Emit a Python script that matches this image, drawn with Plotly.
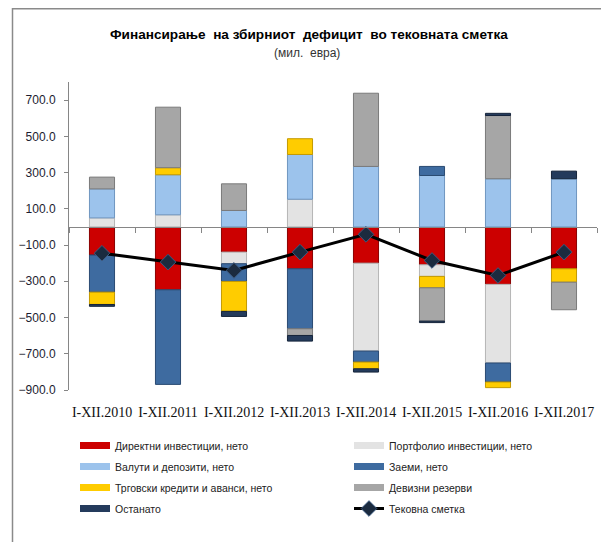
import plotly.graph_objects as go

categories = ["I-XII.2010", "I-XII.2011", "I-XII.2012", "I-XII.2013",
              "I-XII.2014", "I-XII.2015", "I-XII.2016", "I-XII.2017"]

direct_inv = [-155, -347, -139, -231, -200, -209, -317, -231]
portfolio_inv = [50, 67, -64, 153, -485, -64, -434, 0]
currency_dep = [160, 221, 91, 247, 334, 284, 266, 266]
loans = [-205, -522, -98, -331, -61, 50, -105, 0]
trade_credits = [-68, 39, -165, 87, -37, -63, -31, -74]
reserves = [65, 334, 147, -37, 404, -184, 349, -152]
other = [-10, 0, -28, -31, -18, -8, 12, 42]
current_account = [-145, -194, -240, -139, -41, -185, -268, -139]

series = [
    ("Директни инвестиции, нето", direct_inv, "#cc0000", "#8b0000", "legend"),
    ("Портфолио инвестиции, нето", portfolio_inv, "#e3e3e3", "#b5b5b5", "legend2"),
    ("Валути и депозити, нето", currency_dep, "#9cc3ec", "#6f96c0", "legend"),
    ("Заеми, нето", loans, "#3e6ba0", "#2a4a72", "legend2"),
    ("Трговски кредити и аванси, нето", trade_credits, "#ffcc00", "#c49a00", "legend"),
    ("Девизни резерви", reserves, "#a6a6a6", "#7a7a7a", "legend2"),
    ("Останато", other, "#243b5c", "#15243a", "legend"),
]

fig = go.Figure()

for name, vals, col, edge, lg in series:
    fig.add_trace(go.Bar(
        x=categories, y=[v if v != 0 else None for v in vals], name=name, showlegend=False,
        marker=dict(color=col, line=dict(color=edge, width=1)),
        hoverinfo="x+y+name",
    ))

# legend entries (wide swatches)
for name, vals, col, edge, lg in series:
    fig.add_trace(go.Scatter(
        x=[None], y=[None], mode="lines", name=name, legend=lg,
        legendgroup=name, line=dict(color=col, width=7), hoverinfo="skip",
    ))

fig.add_trace(go.Scatter(
    x=categories, y=current_account, name="Тековна сметка",
    mode="lines+markers", xaxis="x2", legend="legend2", legendgroup="ca",
    line=dict(color="#000000", width=3),
    marker=dict(symbol="diamond", size=12, color="#1b2b3f",
                line=dict(color="#3d5a80", width=1)),
))

# the page body adds an 8px margin, so figure coordinates = screen - 8
OFF = 8
W, H = 609 - OFF, 542 - OFF
ml = 69 - OFF
mt = 82 - OFF
plot_right = 597 - OFF
plot_bottom = 390 - OFF
mr = W - plot_right
mb = H - plot_bottom
pw = W - ml - mr
ph = H - mt - mb


def px_x(p):
    return (p - OFF - ml) / pw


def px_y(p):
    return (plot_bottom - (p - OFF)) / ph


legend_font = dict(family="Liberation Sans, Arial, sans-serif", size=10.5, color="#222222")

fig.update_layout(
    width=W, height=H,
    margin=dict(l=ml, r=mr, t=mt, b=mb),
    paper_bgcolor="white", plot_bgcolor="white",
    barmode="relative", bargap=0.62,
    xaxis=dict(type="category", categoryorder="array", categoryarray=categories,
               range=[-0.5, 7.5], showline=False, ticks="", showgrid=False,
               zeroline=False,
               tickfont=dict(family="Liberation Serif, Times New Roman, serif", size=14, color="#111111"),
               ticklabelstandoff=12),
    xaxis2=dict(type="category", categoryorder="array", categoryarray=categories,
                range=[-0.5, 7.5], overlaying="x", anchor="free",
                position=900 / 1700, showline=True, linecolor="#868686", linewidth=1,
                ticks="outside", ticklen=5, tickcolor="#868686", tickson="boundaries",
                showticklabels=False, showgrid=False, zeroline=False),
    yaxis=dict(range=[-900, 800], tick0=-900, dtick=200, tickformat=".1f",
               showline=True, linecolor="#868686", linewidth=1,
               ticks="outside", ticklen=4, tickcolor="#868686",
               showgrid=False, zeroline=False,
               tickfont=dict(family="Liberation Sans, Arial, sans-serif", size=12, color="#1c1c30"),
               ticklabelstandoff=6),
    legend=dict(orientation="v", x=px_x(75), y=px_y(431), xanchor="left", yanchor="top",
                font=legend_font, tracegroupgap=2, bgcolor="rgba(0,0,0,0)", itemwidth=30),
    legend2=dict(orientation="v", x=px_x(349), y=px_y(431), xanchor="left", yanchor="top",
                 font=legend_font, tracegroupgap=2, bgcolor="rgba(0,0,0,0)", itemwidth=30),
    showlegend=True,
    annotations=[
        dict(text="Финансирање\u00a0 на збирниот\u00a0 дефицит\u00a0 во тековната сметка",
             x=px_x(308.5), y=px_y(35), xref="paper", yref="paper",
             xanchor="center", yanchor="middle", showarrow=False,
             font=dict(family="Liberation Sans, Arial, sans-serif", size=13.6, color="#000000", weight="bold")),
        dict(text="(мил.\u00a0 евра)",
             x=px_x(307), y=px_y(53), xref="paper", yref="paper",
             xanchor="center", yanchor="middle", showarrow=False,
             font=dict(family="Liberation Sans, Arial, sans-serif", size=12, color="#333333")),
    ],
    shapes=[
        dict(type="rect", xref="paper", yref="paper",
             x0=px_x(12.5), x1=px_x(640), y0=px_y(580), y1=px_y(8.8),
             line=dict(color="#8a8a8a", width=1.5), fillcolor="rgba(0,0,0,0)", layer="below"),
    ],
)

fig.write_html("out.html")
